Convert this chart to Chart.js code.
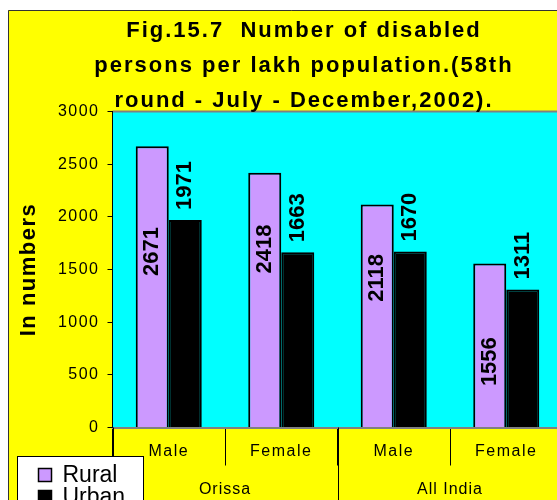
<!DOCTYPE html>
<html lang="en">
<head>
<meta charset="UTF-8">
<title>Fig.15.7 Disabled persons per lakh population</title>
<script src="https://cdn.jsdelivr.net/npm/chart.js"></script>
<style>
  html, body { margin: 0; padding: 0; background: #fff; overflow: hidden; }
  canvas { display: block; }
</style>
</head>
<body>
<!-- canvas is a bit bigger than the window: the plot runs off the right/bottom edge like the original -->
<canvas id="myChart" width="575" height="520"></canvas>
<script>
const categories = ['Male', 'Female', 'Male', 'Female'];
const groups = ['Orissa', 'All India'];          // each group covers 2 categories
const rural = [2671, 2418, 2118, 1556];
const urban = [1971, 1663, 1670, 1311];
const yMin = 0, yMax = 3000, yStep = 500;
const titleLines = [
    'Fig.15.7  Number of disabled',
    'persons per lakh population.(58th',
    'round - July - December,2002).'
];

const YELLOW = '#FFFF00', CYAN = '#00FFFF', LAVENDER = '#CC99FF';
const FONT = '"Liberation Sans", Arial, sans-serif';

Chart.defaults.font.family = FONT;
Chart.defaults.color = '#000';

// yellow chart box + cyan plot area
const bgPlugin = {
    id: 'bg',
    beforeDraw(chart) {
        const {ctx, chartArea: a, width, height} = chart;
        ctx.save();
        ctx.fillStyle = YELLOW;
        ctx.fillRect(8, 10, width, height);
        ctx.strokeStyle = '#333';
        ctx.lineWidth = 1;
        ctx.beginPath();
        ctx.moveTo(8.5, height); ctx.lineTo(8.5, 10.5); ctx.lineTo(width, 10.5);
        ctx.stroke();
        ctx.fillStyle = CYAN;
        ctx.fillRect(a.left, a.top, a.right - a.left, a.bottom - a.top);
        ctx.strokeStyle = '#808080';
        ctx.lineWidth = 2;
        ctx.beginPath(); ctx.moveTo(a.left, a.top); ctx.lineTo(a.right, a.top); ctx.stroke();
        ctx.restore();
        // excel-ish wide text for the axis labels
        ctx.letterSpacing = '1.5px';
    }
};

// vertical value labels on the bars
const barLabels = {
    id: 'barLabels',
    afterDatasetsDraw(chart, args, opts) {
        const ctx = chart.ctx;
        ctx.save();
        ctx.letterSpacing = '0px';
        ctx.font = 'bold 22px ' + FONT;
        ctx.fillStyle = '#000';
        ctx.textBaseline = 'middle';
        chart.data.datasets.forEach((ds, di) => {
            chart.getDatasetMeta(di).data.forEach((bar, i) => {
                const txt = String(ds.data[i]);
                ctx.save();
                if (di === 0) {
                    const cy = bar.base - (bar.base - bar.y) * opts.ruralAt[i];
                    ctx.translate(bar.x, cy);
                    ctx.rotate(-Math.PI / 2);
                    ctx.textAlign = 'center';
                } else {
                    ctx.translate(bar.x, bar.y - opts.gap);
                    ctx.rotate(-Math.PI / 2);
                    ctx.textAlign = 'left';
                }
                ctx.fillText(txt, 0, 0);
                ctx.restore();
            });
        });
        ctx.restore();
    }
};

// group row under the x axis, title and legend box
const extras = {
    id: 'extras',
    afterDraw(chart, args, opts) {
        const {ctx, chartArea: a, height, scales: {x}} = chart;
        const per = categories.length / groups.length;
        ctx.save();

        // long separators + group names
        ctx.strokeStyle = '#000';
        ctx.lineWidth = 1;
        for (let g = 0; g <= groups.length; g++) {
            const px = Math.round(x.getPixelForValue(g * per - 0.5)) + 0.5;
            ctx.beginPath(); ctx.moveTo(px, a.bottom); ctx.lineTo(px, height); ctx.stroke();
        }
        ctx.letterSpacing = '1px';
        ctx.font = '16px ' + FONT;
        ctx.fillStyle = '#000';
        ctx.textAlign = 'center';
        ctx.textBaseline = 'alphabetic';
        groups.forEach((g, gi) => {
            const cx = (x.getPixelForValue(gi * per - 0.5) + x.getPixelForValue((gi + 1) * per - 0.5)) / 2;
            ctx.fillText(g, cx, a.bottom + 66.5);
        });

        // title
        ctx.letterSpacing = '2px';
        ctx.font = 'bold 22px ' + FONT;
        titleLines.forEach((t, i) => ctx.fillText(t, opts.titleX, opts.titleY + i * 35));

        // legend
        const lx = 17.5, ly = 456.5;
        ctx.letterSpacing = '0px';
        ctx.fillStyle = '#fff';
        ctx.fillRect(lx, ly, 126, height);
        ctx.strokeStyle = '#000';
        ctx.strokeRect(lx, ly, 126, height);
        ctx.font = '23px ' + FONT;
        ctx.textAlign = 'left';
        chart.data.datasets.forEach((ds, di) => {
            const y0 = ly + 12 + di * 22;
            ctx.fillStyle = ds.backgroundColor;
            ctx.fillRect(lx + 21, y0, 13, 13);
            ctx.lineWidth = 1.5;
            ctx.strokeStyle = '#000';
            ctx.strokeRect(lx + 21, y0, 13, 13);
            ctx.fillStyle = '#000';
            ctx.fillText(ds.label, lx + 45, y0 + 13);
        });
        ctx.restore();
    }
};

const ctx = document.getElementById('myChart').getContext('2d');
const myChart = new Chart(ctx, {
    type: 'bar',
    data: {
        labels: categories,
        datasets: [
            {
                label: 'Rural',
                data: rural,
                backgroundColor: LAVENDER,
                borderColor: '#000',
                borderWidth: 2,
                categoryPercentage: 0.587,
                barPercentage: 1
            },
            {
                label: 'Urban',
                data: urban,
                backgroundColor: '#000',
                borderColor: '#000',
                borderWidth: 2,
                categoryPercentage: 0.587,
                barPercentage: 1
            }
        ]
    },
    options: {
        responsive: false,
        animation: false,
        layout: { padding: { left: 0, top: 111.5, right: 12.5, bottom: 0 } },
        plugins: {
            legend: { display: false },
            title: { display: false },
            tooltip: { enabled: false },
            barLabels: { ruralAt: [0.625, 0.70, 0.67, 0.40], gap: 10 },
            extras: { titleX: 304, titleY: 37 }
        },
        scales: {
            x: {
                ticks: { font: { size: 16 }, padding: -24, maxRotation: 0, autoSkip: false },
                grid: { drawOnChartArea: false, tickLength: 38, color: '#000', offset: true },
                border: { color: '#808080', width: 2 },
                afterFit(s) { s.height = 92.5; }
            },
            y: {
                min: yMin,
                max: yMax,
                ticks: { stepSize: yStep, font: { size: 16 }, padding: 8, callback: (v) => String(v) },
                grid: { drawOnChartArea: false, tickLength: 5, color: '#000' },
                border: { color: '#000', width: 1 },
                title: {
                    display: true,
                    text: 'In numbers',
                    font: { size: 22, weight: 'bold' },
                    padding: { top: 16, bottom: 0 }
                },
                afterFit(s) { s.width = 112.5; }
            }
        }
    },
    plugins: [bgPlugin, barLabels, extras]
});
</script>
</body>
</html>
